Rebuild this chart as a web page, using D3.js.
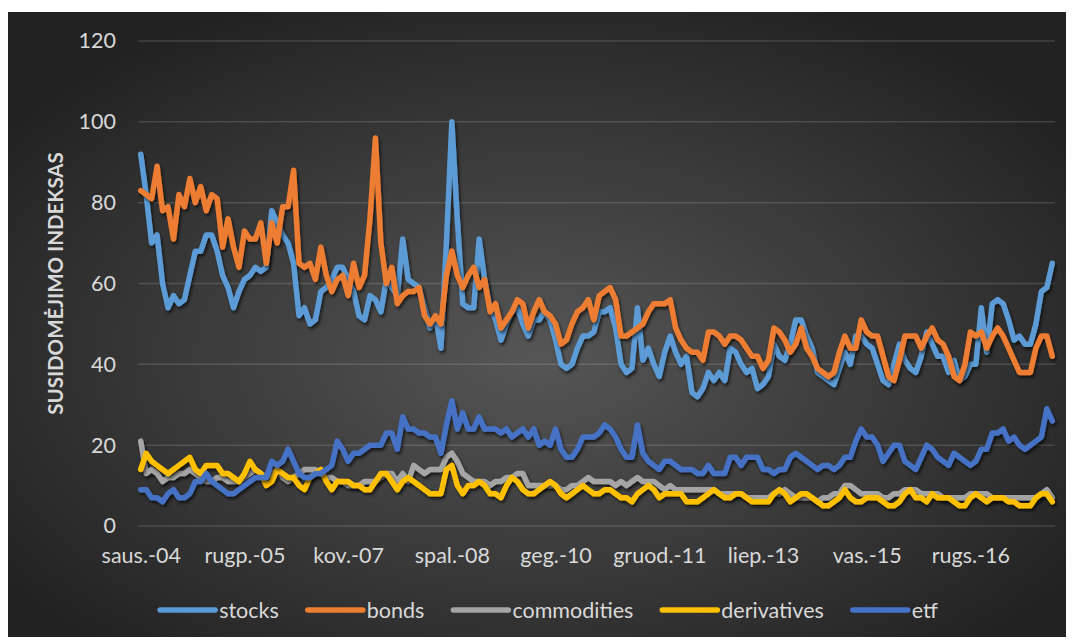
<!DOCTYPE html>
<html>
<head>
<meta charset="utf-8">
<script src="https://cdn.jsdelivr.net/npm/d3@7"></script>
<style>
  html, body { margin: 0; padding: 0; background: #ffffff; }
  svg { display: block; }
  text { font-family: Lato, "Open Sans", "Noto Sans", sans-serif; }
</style>
</head>
<body>
<svg id="chart" width="1073" height="642"></svg>
<script>
// Google Trends style interest index, monthly, Jan 2004 - Dec 2017
const monthNames = ["saus.", "vas.", "kov.", "bal.", "geg.", "birž.", "liep.", "rugp.", "rugs.", "spal.", "lapkr.", "gruod."];
const years = [2004, 2005, 2006, 2007, 2008, 2009, 2010, 2011, 2012, 2013, 2014, 2015, 2016, 2017];
const categories = years.flatMap(y => monthNames.map(m => `${m}-${String(y).slice(2)}`));
const tickStep = 19;
const yTicks = [0, 20, 40, 60, 80, 100, 120];

const stocks = [
  92, 82, 70, 72, 60, 54, 57, 55, 56, 62, 68, 68, 72, 72, 68, 62, 59, 54, 58, 61,
  62, 64, 63, 64, 78, 75, 72, 70, 65, 52, 54, 50, 51, 58, 59, 61, 64, 64, 61, 58,
  52, 51, 57, 56, 53, 61, 59, 57, 71, 61, 60, 59, 54, 49, 52, 44, 70, 100, 76, 55,
  54, 54, 71, 61, 54, 51, 46, 50, 53, 54, 50, 47, 51, 51, 53, 51, 46, 40, 39, 40,
  44, 47, 47, 48, 53, 53, 54, 49, 40, 38, 39, 54, 41, 44, 40, 37, 43, 47, 43, 40,
  42, 33, 32, 34, 38, 36, 38, 36, 44, 43, 40, 38, 39, 34, 35, 37, 45, 42, 41, 45,
  51, 51, 47, 44, 38, 37, 36, 35, 39, 43, 40, 47, 47, 45, 44, 40, 36, 35, 40, 45,
  41, 39, 38, 42, 48, 45, 42, 42, 38, 41, 36, 37, 40, 40, 54, 43, 55, 56, 55, 51,
  46, 47, 45, 45, 50, 58, 59, 65
];
const bonds = [
  83, 82, 81, 89, 78, 79, 71, 82, 79, 86, 80, 84, 78, 82, 81, 69, 76, 69, 64, 73,
  71, 71, 75, 65, 75, 70, 79, 79, 88, 65, 64, 65, 61, 69, 62, 58, 61, 62, 57, 65,
  59, 62, 76, 96, 70, 60, 64, 55, 57, 58, 58, 59, 52, 50, 52, 50, 62, 68, 62, 59,
  62, 64, 59, 61, 53, 55, 49, 51, 53, 56, 55, 49, 53, 56, 53, 52, 50, 45, 46, 50,
  53, 54, 56, 51, 57, 58, 59, 56, 47, 47, 48, 49, 50, 53, 55, 55, 55, 56, 49, 46,
  44, 43, 43, 41, 48, 48, 47, 45, 47, 47, 46, 44, 42, 42, 39, 41, 49, 48, 46, 43,
  45, 49, 44, 42, 39, 38, 37, 38, 43, 47, 44, 44, 51, 48, 47, 47, 42, 37, 36, 41,
  47, 47, 47, 44, 47, 49, 46, 45, 42, 37, 36, 40, 48, 47, 48, 44, 47, 49, 47, 44,
  41, 38, 38, 38, 44, 47, 47, 42
];
const commodities = [
  21, 13, 14, 13, 11, 12, 12, 13, 13, 14, 13, 12, 11, 11, 12, 12, 11, 11, 11, 12,
  13, 14, 13, 12, 13, 14, 12, 11, 12, 13, 14, 14, 14, 13, 12, 12, 11, 11, 10, 10,
  10, 11, 11, 11, 12, 13, 13, 11, 13, 11, 15, 14, 13, 14, 14, 14, 17, 18, 16, 13,
  12, 11, 11, 11, 10, 11, 11, 12, 12, 13, 13, 10, 10, 10, 10, 10, 10, 9, 9, 10,
  10, 11, 12, 11, 11, 11, 11, 10, 11, 10, 11, 12, 11, 11, 11, 10, 9, 10, 9, 9,
  9, 9, 9, 9, 9, 9, 8, 8, 8, 8, 8, 7, 7, 7, 7, 7, 8, 8, 9, 8,
  7, 7, 7, 7, 6, 7, 7, 8, 8, 10, 10, 9, 8, 8, 8, 8, 7, 7, 8, 8,
  9, 9, 9, 8, 8, 8, 8, 7, 7, 7, 7, 7, 8, 8, 8, 8, 7, 7, 7, 7,
  7, 7, 7, 7, 7, 8, 9, 7
];
const derivatives = [
  14, 18, 16, 15, 14, 13, 14, 15, 16, 17, 14, 13, 15, 15, 15, 13, 13, 12, 11, 13,
  16, 14, 13, 10, 11, 14, 13, 12, 12, 10, 9, 12, 13, 14, 11, 9, 11, 11, 11, 10,
  10, 9, 9, 11, 13, 13, 11, 9, 11, 12, 11, 10, 9, 8, 8, 8, 14, 15, 10, 8,
  10, 10, 11, 10, 8, 8, 7, 10, 12, 11, 9, 8, 8, 9, 10, 11, 10, 8, 7, 8,
  9, 10, 9, 8, 8, 9, 9, 8, 7, 7, 6, 8, 9, 10, 9, 7, 8, 8, 8, 8,
  6, 6, 6, 7, 8, 9, 8, 7, 7, 8, 8, 7, 6, 6, 6, 6, 8, 9, 8, 6,
  7, 8, 8, 7, 6, 5, 5, 6, 7, 9, 7, 6, 6, 7, 7, 7, 6, 5, 5, 6,
  8, 9, 7, 7, 6, 8, 7, 7, 7, 6, 5, 5, 7, 8, 7, 6, 7, 7, 7, 6,
  6, 5, 5, 5, 7, 8, 8, 6
];
const etf = [
  9, 9, 7, 7, 6, 8, 9, 7, 7, 8, 11, 11, 13, 11, 10, 9, 8, 8, 9, 10,
  11, 12, 12, 12, 16, 15, 16, 19, 16, 13, 12, 12, 13, 13, 14, 15, 21, 19, 16, 18,
  18, 19, 20, 20, 20, 23, 23, 19, 27, 24, 24, 23, 23, 22, 22, 18, 25, 31, 24, 28,
  24, 24, 27, 24, 24, 24, 23, 24, 22, 23, 24, 22, 24, 20, 21, 20, 24, 19, 17, 17,
  19, 22, 22, 22, 23, 25, 24, 22, 19, 17, 17, 25, 18, 16, 15, 14, 16, 16, 15, 14,
  14, 14, 13, 13, 15, 13, 13, 13, 17, 17, 15, 17, 17, 17, 14, 14, 13, 14, 14, 17,
  18, 17, 16, 15, 14, 15, 15, 14, 15, 17, 17, 21, 24, 22, 22, 20, 16, 18, 20, 20,
  16, 15, 14, 17, 20, 19, 17, 16, 15, 18, 17, 16, 15, 16, 19, 19, 23, 23, 24, 21,
  22, 20, 19, 20, 21, 22, 29, 26
];

const seriesNames = ["stocks", "bonds", "commodities", "derivatives", "etf"];
const seriesValues = [stocks, bonds, commodities, derivatives, etf];
const seriesColors = ["#5B9BD5", "#ED7D31", "#A5A5A5", "#FFC000", "#4472C4"];
const axisTitle = "SUSIDOMĖJIMO INDEKSAS";

const frame = { x: 8, y: 12, w: 1058, h: 625 };
const plot = { left: 138, right: 1055, top: 41, bottom: 526 };
const textColor = "#d9d9d9";

const svg = d3.select("#chart");
const defs = svg.append("defs");

const grad = defs.append("radialGradient")
  .attr("id", "bg").attr("cx", "50%").attr("cy", "55%").attr("r", "62%");
grad.append("stop").attr("offset", "0%").attr("stop-color", "#565656");
grad.append("stop").attr("offset", "100%").attr("stop-color", "#222222");

const shadow = defs.append("filter").attr("id", "shadow")
  .attr("x", "-5%").attr("y", "-5%").attr("width", "110%").attr("height", "115%");
shadow.append("feDropShadow")
  .attr("dx", 1.5).attr("dy", 2.5).attr("stdDeviation", 1.6)
  .attr("flood-color", "#000").attr("flood-opacity", 0.65);

svg.append("rect")
  .attr("x", frame.x).attr("y", frame.y)
  .attr("width", frame.w).attr("height", frame.h)
  .attr("fill", "url(#bg)");

const x = d3.scalePoint()
  .domain(categories)
  .range([plot.left, plot.right])
  .padding(0.5);

const y = d3.scaleLinear()
  .domain([0, 120])
  .range([plot.bottom, plot.top]);

// horizontal gridlines
svg.append("g")
  .selectAll("line")
  .data(yTicks)
  .join("line")
  .attr("x1", plot.left).attr("x2", plot.right)
  .attr("y1", d => y(d)).attr("y2", d => y(d))
  .attr("stroke", "#ffffff").attr("stroke-opacity", 0.14)
  .attr("stroke-width", 1.5);

// y axis labels
const yAxis = d3.axisLeft(y).tickValues(yTicks).tickSize(0).tickPadding(22);
const gy = svg.append("g").attr("transform", `translate(${plot.left},0)`).call(yAxis);
gy.select(".domain").remove();
gy.selectAll("text")
  .attr("fill", textColor)
  .style("font-size", "21.5px")
  .style("font-family", "Lato, sans-serif");

// x axis labels, one every 19 months
const xTickValues = categories.filter((d, i) => i % tickStep === 0);
const xAxis = d3.axisBottom(x).tickValues(xTickValues).tickSize(0).tickPadding(22);
const gx = svg.append("g").attr("transform", `translate(0,${plot.bottom})`).call(xAxis);
gx.select(".domain").remove();
gx.selectAll("text")
  .attr("fill", textColor)
  .style("font-size", "21.5px")
  .style("font-family", "Lato, sans-serif");

// y axis title
svg.append("text")
  .attr("transform", `translate(63,${(plot.top + plot.bottom) / 2}) rotate(-90)`)
  .attr("text-anchor", "middle")
  .attr("fill", textColor)
  .style("font-size", "20.5px")
  .style("font-weight", "bold")
  .text(axisTitle);

// series lines
const line = d3.line()
  .x((d, i) => x(categories[i]))
  .y(d => y(d));

svg.append("g")
  .selectAll("path")
  .data(seriesValues)
  .join("path")
  .attr("d", d => line(d))
  .attr("fill", "none")
  .attr("stroke", (d, i) => seriesColors[i])
  .attr("stroke-width", 5.5)
  .attr("stroke-linejoin", "round")
  .attr("stroke-linecap", "round")
  .attr("filter", "url(#shadow)");

// legend
const legend = svg.append("g");
const sampleLen = 55, sampleGap = 4, itemGap = 29;
const items = legend.selectAll("g").data(seriesNames).join("g");
items.append("line")
  .attr("x1", 0).attr("x2", sampleLen).attr("y1", 0).attr("y2", 0)
  .attr("stroke", (d, i) => seriesColors[i])
  .attr("stroke-width", 5.5).attr("stroke-linecap", "round");
items.append("text")
  .attr("x", sampleLen + sampleGap).attr("dy", "0.35em")
  .attr("fill", textColor)
  .style("font-size", "21.5px")
  .text(d => d);
let offset = 0;
items.each(function () {
  const g = d3.select(this);
  g.attr("transform", `translate(${offset},0)`);
  offset += sampleLen + sampleGap + g.select("text").node().getComputedTextLength() + itemGap;
});
const legendWidth = offset - itemGap;
legend.attr("transform", `translate(${549 - legendWidth / 2},610)`);
</script>
</body>
</html>
